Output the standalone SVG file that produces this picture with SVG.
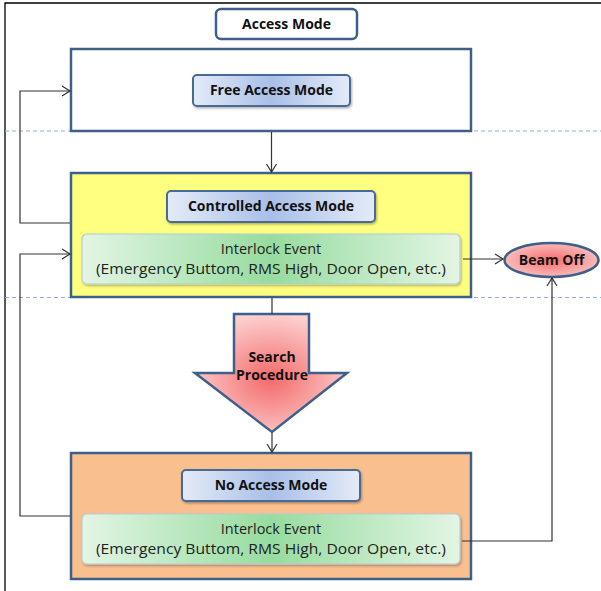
<svg xmlns="http://www.w3.org/2000/svg" width="601" height="591" viewBox="0 0 601 591">
<style>
.frame{fill:none;stroke:#000;stroke-width:1.3}
.box{stroke:#3e5f8a;stroke-width:2.5}
.btn{fill:url(#gBtn);stroke:#4a6a95;stroke-width:2}
.grn{fill:url(#gGrn);stroke:#b8ccd8;stroke-width:1.2}
.dash{fill:none;stroke:#8fb0d8;stroke-width:1;stroke-dasharray:4 3}
.con{fill:none;stroke:#333;stroke-width:1.2}
.t{font-family:"Open Sans","Liberation Sans",sans-serif;font-size:14px;font-weight:bold;fill:#111;text-anchor:middle}
.r{font-family:"Open Sans","Liberation Sans",sans-serif;font-size:14.5px;fill:#222;text-anchor:middle}
</style>
<defs>
<linearGradient id="gBtn" x1="0" y1="0" x2="1" y2="0">
<stop offset="0" stop-color="#e4ebf7"/><stop offset="0.5" stop-color="#a9bfe8"/><stop offset="1" stop-color="#e4ebf7"/>
</linearGradient>
<linearGradient id="gGrn" x1="0" y1="0" x2="1" y2="0">
<stop offset="0" stop-color="#e3f5e4"/><stop offset="0.5" stop-color="#96dc9f"/><stop offset="1" stop-color="#e3f5e4"/>
</linearGradient>
<radialGradient id="gRed" cx="0.5" cy="0.55" r="0.55">
<stop offset="0" stop-color="#f46a6a"/><stop offset="1" stop-color="#fcd0d0"/>
</radialGradient>
<radialGradient id="gBeam" cx="0.5" cy="0.5" r="0.6">
<stop offset="0" stop-color="#f56d6d"/><stop offset="1" stop-color="#fbcaca"/>
</radialGradient>
<marker id="arr" markerWidth="12" markerHeight="12" refX="10" refY="6" orient="auto" markerUnits="userSpaceOnUse">
<path d="M2,1 L10,6 L2,11" fill="none" stroke="#333" stroke-width="1.2"/>
</marker>
<filter id="sh" x="-10%" y="-10%" width="130%" height="140%">
<feDropShadow dx="1" dy="1.5" stdDeviation="1" flood-color="#000" flood-opacity="0.3"/>
</filter>
</defs>

<path class="frame" d="M5,591 V3 H601"/>
<line class="dash" x1="5" y1="131" x2="601" y2="131"/>
<line class="dash" x1="5" y1="297.5" x2="601" y2="297.5"/>

<g id="title">
<rect x="216" y="9" width="141" height="30" rx="5" fill="#fff" stroke="#3e5f8a" stroke-width="2.5"/>
<text class="t" x="286.5" y="29">Access Mode</text>
</g>

<g id="free-access">
<rect class="box" x="71" y="49" width="400" height="82" fill="#fff"/>
<rect class="btn" x="193" y="75" width="157" height="31" rx="4" filter="url(#sh)"/>
<text class="t" x="271.5" y="95">Free Access Mode</text>
</g>

<g id="controlled-access">
<rect class="box" x="71" y="173" width="400" height="124" fill="#ffff80"/>
<rect class="btn" x="167" y="191" width="208" height="31" rx="4" filter="url(#sh)"/>
<text class="t" x="271" y="211">Controlled Access Mode</text>
<rect class="grn" x="82" y="234" width="378" height="50" rx="5" filter="url(#sh)"/>
<text class="r" x="271" y="254">Interlock Event</text>
<text class="r" x="271" y="274" textLength="350" lengthAdjust="spacingAndGlyphs">(Emergency Buttom, RMS High, Door Open, etc.)</text>
</g>

<g id="beam-off">
<ellipse cx="551.5" cy="260" rx="47" ry="17" fill="url(#gBeam)" stroke="#3e5f8a" stroke-width="2.5"/>
<text class="t" x="551.5" y="265">Beam Off</text>
</g>

<g id="search-procedure">
<path d="M234,314 H309 V373 H347 L272,432 L195,373 H234 Z" fill="url(#gRed)" stroke="#3e5f8a" stroke-width="2.5"/>
<text class="t" x="272" y="362">Search</text>
<text class="t" x="272" y="380">Procedure</text>
</g>

<g id="no-access">
<rect class="box" x="71" y="453" width="400" height="126" fill="#f9bf8f"/>
<rect class="btn" x="182" y="470" width="178" height="31" rx="4" filter="url(#sh)"/>
<text class="t" x="271" y="490">No Access Mode</text>
<rect class="grn" x="82" y="514" width="378" height="50" rx="5" filter="url(#sh)"/>
<text class="r" x="271" y="534">Interlock Event</text>
<text class="r" x="271" y="554" textLength="350" lengthAdjust="spacingAndGlyphs">(Emergency Buttom, RMS High, Door Open, etc.)</text>
</g>

<g id="connectors">
<line class="con" x1="271.5" y1="132" x2="271.5" y2="172" marker-end="url(#arr)"/>
<path class="con" d="M70,223 H20 V91 H70" marker-end="url(#arr)"/>
<path class="con" d="M70,516 H20 V254 H70" marker-end="url(#arr)"/>
<line class="con" x1="463" y1="259" x2="503" y2="259" marker-end="url(#arr)"/>
<path class="con" d="M462,541 H552 V278" marker-end="url(#arr)"/>
<line class="con" x1="272" y1="298" x2="272" y2="314"/>
<line class="con" x1="272" y1="433" x2="272" y2="452" marker-end="url(#arr)"/>
</g>
</svg>
